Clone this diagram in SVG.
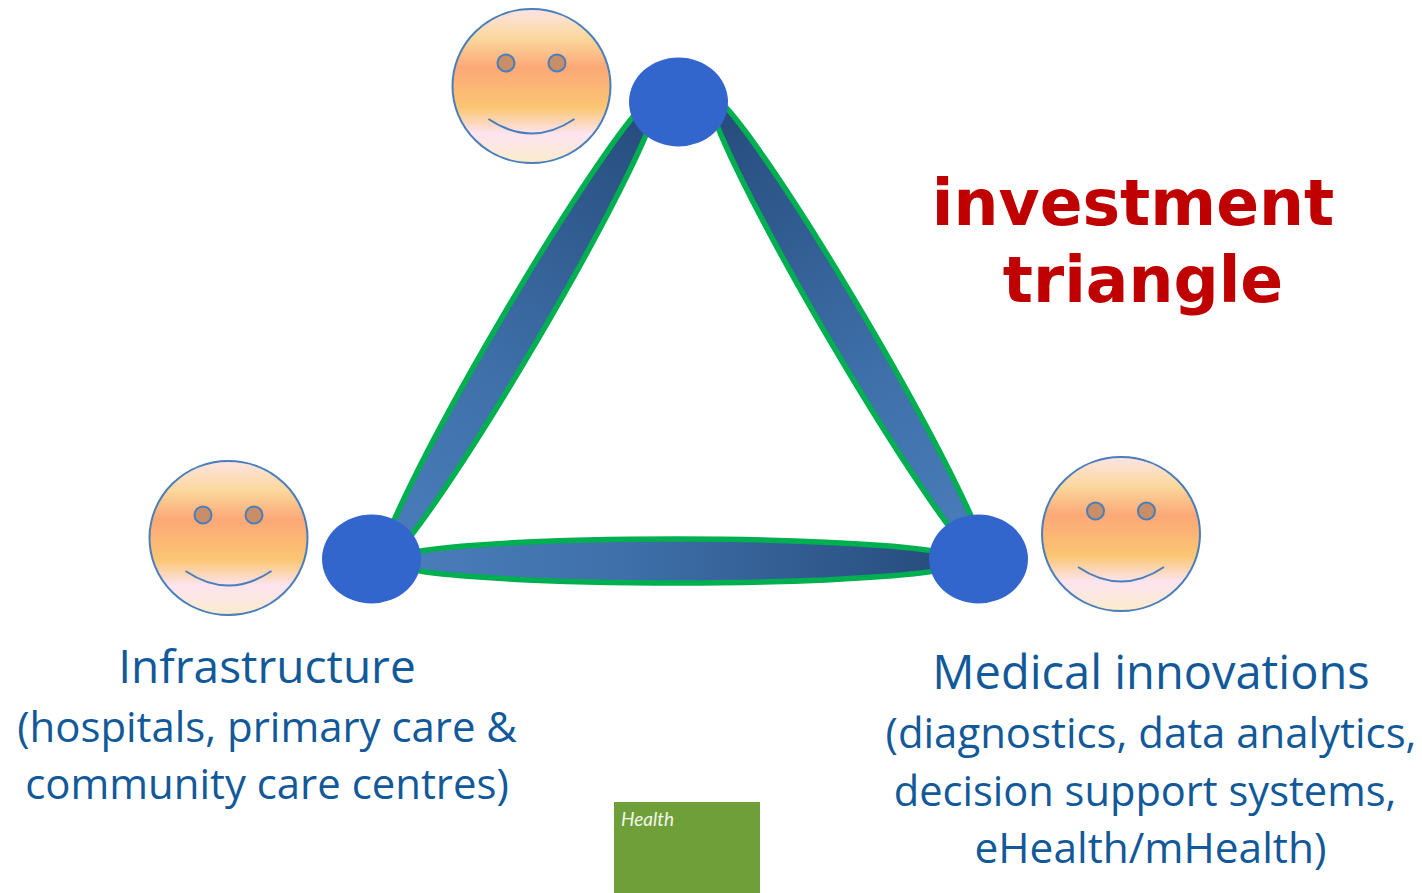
<svg xmlns="http://www.w3.org/2000/svg" width="1422" height="893" viewBox="0 0 1422 893">
<style>
.lens{stroke:#00b050;stroke-width:5.500px}
.hub{fill:#3366cc}
.lab{font-family:"Open Sans","Noto Sans",sans-serif;fill:#12599a;text-anchor:middle}
.big{font-size:46px}
.med{font-size:47px}
.sm{font-size:41.900px}
.ttl{font-family:"DejaVu Sans",Verdana,sans-serif;font-weight:bold;font-size:63.200px;fill:#c00000;text-anchor:middle}
.face{fill:url(#fg);stroke:#4a7ebb;stroke-width:2}
.eye{fill:#c88e68;stroke:#4a7ebb;stroke-width:2}
.smile{fill:none;stroke:#4a7ebb;stroke-width:2}
</style>
<defs>
<linearGradient id="fg" x1="0" y1="0" x2="0" y2="1">
<stop offset="0" stop-color="#fde4e4"/><stop offset=".19" stop-color="#fbd89c"/><stop offset=".38" stop-color="#fca877"/><stop offset=".64" stop-color="#fbc673"/><stop offset=".81" stop-color="#fde4f0"/><stop offset="1" stop-color="#fbeccc"/>
</linearGradient>
<linearGradient id="lg" x1="0" y1="0" x2="1" y2="0">
<stop offset="0" stop-color="#4a7ebb"/><stop offset=".4" stop-color="#3f70aa"/><stop offset="1" stop-color="#254a7a"/>
</linearGradient>
<g id="smiley">
<ellipse class="face" cx="0" cy="0" rx="79" ry="77"/>
<circle class="eye" cx="-25.500" cy="-23" r="8.500"/>
<circle class="eye" cx="25.500" cy="-23" r="8.500"/>
<path class="smile" d="M-43 33Q0 62 43 33"/>
</g>
</defs>
<g id="connectors">
<ellipse class="lens" fill="url(#lg)" cx="677" cy="561" rx="290" ry="22"/>
<ellipse class="lens" fill="url(#lg)" cx="519" cy="330" rx="272" ry="21" transform="rotate(-59.6 519 330)"/>
<ellipse class="lens" fill="url(#lg)" cx="848" cy="330" rx="272" ry="21" transform="rotate(-120.4 848 330)"/>
</g>
<g id="node-top"><ellipse class="hub" cx="678.500" cy="102" rx="49.500" ry="44.500"/><use href="#smiley" x="531.500" y="86"/></g>
<g id="node-left"><ellipse class="hub" cx="371.500" cy="559" rx="49.500" ry="44.500"/><use href="#smiley" x="228.500" y="538"/>
<text class="lab big" x="267" y="683">Infrastructure</text>
<text class="lab sm" x="267" y="742">(hospitals, primary care &amp;</text>
<text class="lab sm" x="267" y="799">community care centres)</text></g>
<g id="node-right"><ellipse class="hub" cx="978.500" cy="559" rx="49.500" ry="44.500"/><use href="#smiley" x="1121" y="534"/>
<text class="lab med" x="1151" y="689">Medical innovations</text>
<text class="lab sm" x="1151" y="748">(diagnostics, data analytics,</text>
<text class="lab" x="1145" y="806" font-size="41.600">decision support systems,</text>
<text class="lab" x="1150.500" y="863" font-size="42.400">eHealth/mHealth)</text></g>
<g id="title"><text class="ttl" x="1133" y="225">investment</text><text class="ttl" x="1143" y="302">triangle</text></g>
<g id="badge"><rect x="614" y="802" width="146" height="91" fill="#6f9f39"/><text x="621" y="826" font-family="Lato,'Open Sans',sans-serif" font-style="italic" font-size="19" fill="#f2f5ea">Health</text></g>
</svg>
